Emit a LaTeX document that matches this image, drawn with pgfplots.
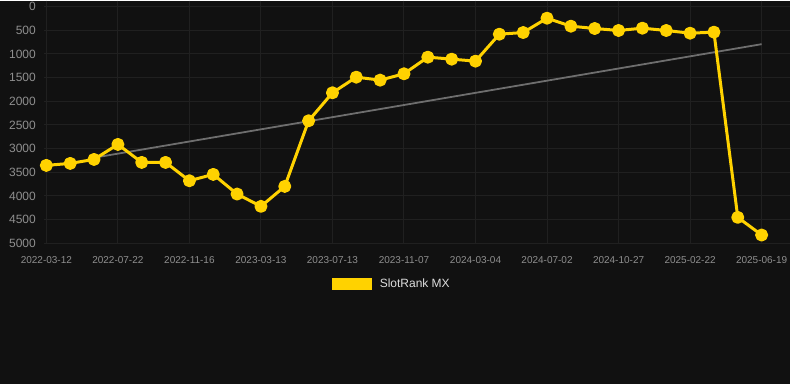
\documentclass[border=0pt]{standalone}
\usepackage{fontspec}
\setmainfont{Liberation Sans}
\usepackage{pgfplots}
\pgfplotsset{compat=1.18}
\definecolor{bg}{HTML}{111111}
\definecolor{gridc}{HTML}{202020}
\definecolor{tickc}{HTML}{8F8F8F}
\definecolor{yel}{HTML}{FFD200}
\definecolor{trendc}{HTML}{6E6E6E}
\definecolor{legc}{HTML}{DDDDDD}
\begin{document}
\begin{tikzpicture}
\fill[bg] (0pt,0pt) rectangle (790pt,384pt);
\begin{axis}[
  at={(44pt,141pt)}, anchor=south west,
  scale only axis, width=746pt, height=243pt,
  xmin=-0.1, xmax=31.17, ymin=-127, ymax=5000, y dir=reverse,
  axis line style={draw=none},
  tick style={draw=none},
  grid=major, major grid style={gridc, line width=1pt},
  xtick={0,3,...,30},
  xticklabels={2022-03-12,2022-07-22,2022-11-16,2023-03-13,2023-07-13,2023-11-07,2024-03-04,2024-07-02,2024-10-27,2025-02-22,2025-06-19},
  ytick={0,500,...,5000},
  /pgf/number format/assume math mode=true,
  /pgf/number format/1000 sep={},
  yticklabel style={font=\fontsize{12}{14}\selectfont, text=tickc, inner sep=0pt, anchor=east, xshift=-8pt},
  xticklabel style={font=\fontsize{10}{12}\selectfont, text=tickc, inner sep=0pt, anchor=north, yshift=-13pt},
  legend style={at={(0.4665,-0.169)}, anchor=center, draw=none, fill=none, inner sep=0pt,
    column sep=6pt, font=\fontsize{12}{14}\selectfont, text=legc, legend cell align=left},
  legend image code/.code={\path[fill=yel, draw=none, sharp corners] (0pt,-6pt) rectangle (40pt,6pt);},
]
\addplot[trendc, line width=1.8pt, forget plot] coordinates {(2,3192) (30,795)};
\addplot[yel, line width=3pt, line join=round, mark=*, mark size=5pt, mark options={fill=yel, draw=none}] coordinates {
(0,3354) (1,3312) (2,3228) (3,2911) (4,3291) (5,3291) (6,3678) (7,3544) (8,3959) (9,4219)
(10,3797) (11,2412) (12,1821) (13,1491) (14,1554) (15,1420) (16,1069) (17,1111) (18,1153) (19,584)
(20,549) (21,246) (22,415) (23,464) (24,506) (25,457) (26,506) (27,563) (28,541) (29,4451) (30,4824)
};
\addlegendentry{SlotRank MX}
\end{axis}
\end{tikzpicture}
\end{document}
